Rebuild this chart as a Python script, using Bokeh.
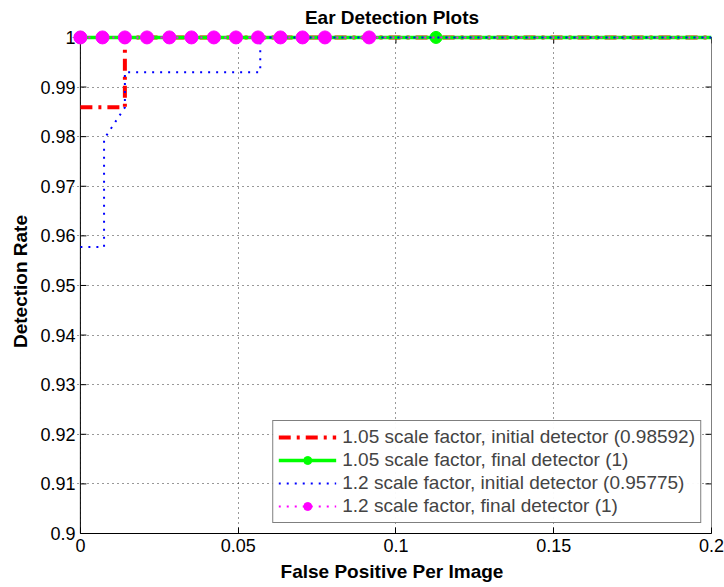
import math
from bokeh.plotting import figure
from bokeh.models import (FixedTicker, CustomJSTickFormatter, Legend, LegendItem, Range1d)
from bokeh.embed import file_html
from bokeh.resources import INLINE

# data
red_x = [0.0, 0.0141, 0.0141, 0.2]
red_y = [0.98592, 0.98592, 1.0, 1.0]

green_x = [0.0, 0.1127, 0.2]
green_y = [1.0, 1.0, 1.0]
green_mx = [0.0, 0.1127]
green_my = [1.0, 1.0]

blue_x = [0.0, 0.0075, 0.0075, 0.0141, 0.0141, 0.057, 0.057, 0.2]
blue_y = [0.95775, 0.95775, 0.9795, 0.9859, 0.9930, 0.9930, 1.0, 1.0]

mag_x = [0.0, 0.0070, 0.0141, 0.0211, 0.0282, 0.0352, 0.0423, 0.0493, 0.0563, 0.0634,
         0.0704, 0.0775, 0.0915, 0.2]
mag_y = [1.0] * 14
mag_mx = mag_x[:-1]
mag_my = mag_y[:-1]

x_ticks = [0, 0.05, 0.1, 0.15, 0.2]
y_ticks = [0.9, 0.91, 0.92, 0.93, 0.94, 0.95, 0.96, 0.97, 0.98, 0.99, 1.0]

FONT = "Liberation Sans"
x0, x1 = x_ticks[0], x_ticks[-1]
y0, y1 = y_ticks[0], y_ticks[-1]
pad_x = 0.0025   # room so markers at the edge are not cut
pad_y = 0.0016

p = figure(width=724, height=587, output_backend="svg", toolbar_location=None,
           x_range=Range1d(x0 - pad_x, x1), y_range=Range1d(y0, y1 + pad_y),
           min_border_left=72, min_border_right=13, min_border_top=29, min_border_bottom=54,
           title="Ear Detection Plots")
p.title.align = "center"
p.title.text_font = FONT
p.title.text_font_size = "19px"
p.title.text_font_style = "bold"
p.title.text_color = "black"
p.title.offset = 4
p.title.standoff = 4

fmt = CustomJSTickFormatter(code="return String(Number(tick.toFixed(4)));")

p.xaxis.ticker = FixedTicker(ticks=x_ticks)
p.yaxis.ticker = FixedTicker(ticks=y_ticks)
p.xaxis.formatter = fmt
p.yaxis.formatter = fmt
p.xaxis.axis_label = "False Positive Per Image"
p.yaxis.axis_label = "Detection Rate"
for ax in (p.xaxis, p.yaxis):
    ax.axis_label_text_font = FONT
    ax.axis_label_text_font_style = "bold"
    ax.axis_label_text_font_size = "19px"
    ax.major_label_text_font = FONT
    ax.major_label_text_font_size = "18px"
    ax.major_tick_out = 0
    ax.minor_tick_line_color = None
    ax.major_label_text_color = "black"
    ax.axis_label_text_color = "black"
p.xaxis.bounds = (x0, x1)
p.xaxis.axis_line_color = "black"
p.xaxis.major_tick_line_color = "black"
p.xaxis.major_tick_in = 6
p.yaxis.axis_line_color = None
p.yaxis.major_tick_line_color = None
p.yaxis.major_tick_in = 0
p.xaxis.axis_label_standoff = 6
p.yaxis.axis_label_standoff = 6
p.xaxis.major_label_standoff = 5
p.yaxis.major_label_standoff = -3

p.outline_line_color = None
p.grid.grid_line_color = "black"
p.grid.grid_line_dash = "1 4"
p.grid.grid_line_alpha = 0.8
p.xgrid.ticker = FixedTicker(ticks=x_ticks)
p.ygrid.ticker = FixedTicker(ticks=y_ticks)
p.xgrid.bounds = (y0, y1)
p.ygrid.bounds = (x0, x1)

# plot box and inward ticks on the other three sides
p.line([x0, x0, x1, x1, x0], [y0, y1, y1, y0, y0], line_color="black", line_width=1)
p.ray(x=[x0] * len(y_ticks), y=y_ticks, length=6, angle=0, length_units="screen",
      line_color="black", line_width=1)
p.ray(x=[x1] * len(y_ticks), y=y_ticks, length=6, angle=math.pi, length_units="screen",
      line_color="black", line_width=1)
p.ray(x=x_ticks, y=[y1] * len(x_ticks), length=6, angle=-math.pi / 2, length_units="screen",
      line_color="black", line_width=1)

r_red = p.line(red_x, red_y, line_color="red", line_width=4, line_dash="12 6 3 6")
r_green = p.line(green_x, green_y, line_color="#00ff00", line_width=3.5)
r_green_m = p.scatter(green_mx, green_my, size=12, fill_color="#00ff00", line_color="#00ff00")
r_blue = p.line(blue_x, blue_y, line_color="blue", line_width=2, line_dash="2 6")
r_mag = p.line(mag_x, mag_y, line_color="magenta", line_width=2, line_dash="2 6")
r_mag_m = p.scatter(mag_mx, mag_my, size=13, fill_color="magenta", line_color="magenta")

legend = Legend(items=[
    LegendItem(label="1.05 scale factor, initial detector (0.98592)", renderers=[r_red]),
    LegendItem(label="1.05 scale factor, final detector (1)", renderers=[r_green, r_green_m]),
    LegendItem(label="1.2 scale factor, initial detector (0.95775)", renderers=[r_blue]),
    LegendItem(label="1.2 scale factor, final detector (1)", renderers=[r_mag, r_mag_m]),
], location="bottom_right")
legend.label_text_font = FONT
legend.label_text_font_size = "19px"
legend.border_line_color = "black"
legend.border_line_width = 1
legend.glyph_width = 58
legend.glyph_height = 20
legend.label_height = 20
legend.spacing = 1
legend.padding = 5
legend.margin = 10
legend.label_standoff = 6
p.add_layout(legend)

open("out.html", "w").write(file_html(p, INLINE))
